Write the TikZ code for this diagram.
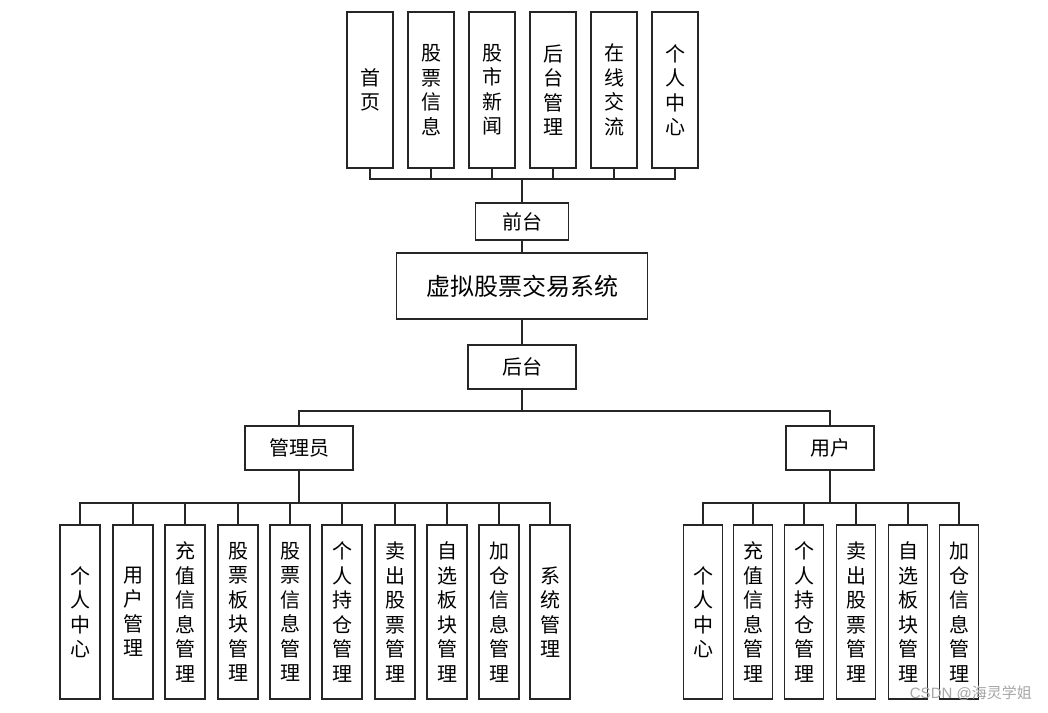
\documentclass[tikz,border=0pt]{standalone}
\usepackage{fontspec}
\newfontfamily\cjk{Noto Sans CJK SC}
\newfontfamily\wmfont{Liberation Sans}
\begin{document}
\begin{tikzpicture}[x=1pt,y=-1pt,
  box/.style={draw=black!85, line width=1.5pt, inner sep=0pt, align=center,
    font=\cjk\fontsize{20}{24.5}\selectfont},
  topbox/.style={box, minimum width=46pt, minimum height=156pt},
  adbox/.style={box, minimum width=40pt, minimum height=174pt},
  usbox/.style={box, minimum width=39pt, minimum height=174pt},
  link/.style={draw=black!85, line width=1.5pt},
  trunk/.style={draw=black!85, line width=2.4pt}]
\useasboundingbox (0,0) rectangle (1048,712);
% top row
\node[topbox] (t1) at (370,90) {首\\页};
\node[topbox] (t2) at (431,90) {股\\票\\信\\息};
\node[topbox] (t3) at (492,90) {股\\市\\新\\闻};
\node[topbox] (t4) at (553,90) {后\\台\\管\\理};
\node[topbox] (t5) at (614,90) {在\\线\\交\\流};
\node[topbox] (t6) at (675,90) {个\\人\\中\\心};
% middle
\node[box, minimum width=93pt, minimum height=37pt] (qt) at (522,221.5) {前台};
\node[box, minimum width=251pt, minimum height=66pt, font=\cjk\fontsize{24}{28}\selectfont] (sys) at (522,286) {虚拟股票交易系统};
\node[box, minimum width=108pt, minimum height=44pt] (ht) at (522,367) {后台};
\node[box, minimum width=108pt, minimum height=44pt] (adm) at (299,448) {管理员};
\node[box, minimum width=88pt, minimum height=44pt] (usr) at (830,448) {用户};
% admin row
\node[adbox] (a1) at (80,612) {个\\人\\中\\心};
\node[adbox] (a2) at (133,612) {用\\户\\管\\理};
\node[adbox] (a3) at (185,612) {充\\值\\信\\息\\管\\理};
\node[adbox] (a4) at (238,612) {股\\票\\板\\块\\管\\理};
\node[adbox] (a5) at (290,612) {股\\票\\信\\息\\管\\理};
\node[adbox] (a6) at (342,612) {个\\人\\持\\仓\\管\\理};
\node[adbox] (a7) at (395,612) {卖\\出\\股\\票\\管\\理};
\node[adbox] (a8) at (447,612) {自\\选\\板\\块\\管\\理};
\node[adbox] (a9) at (499,612) {加\\仓\\信\\息\\管\\理};
\node[adbox] (a10) at (550,612) {系\\统\\管\\理};
% user row
\node[usbox] (u1) at (703,612) {个\\人\\中\\心};
\node[usbox] (u2) at (753,612) {充\\值\\信\\息\\管\\理};
\node[usbox] (u3) at (804,612) {个\\人\\持\\仓\\管\\理};
\node[usbox] (u4) at (856,612) {卖\\出\\股\\票\\管\\理};
\node[usbox] (u5) at (908,612) {自\\选\\板\\块\\管\\理};
\node[usbox] (u6) at (959,612) {加\\仓\\信\\息\\管\\理};
% buses
\coordinate (fbus) at (522,179);
\coordinate (hbus) at (522,411);
\coordinate (abus) at (299,503);
\coordinate (ubus) at (830,503);
% connectors
\draw[trunk] (qt.north) -- (fbus);
\foreach \n in {t1,t2,t3,t4,t5,t6} \draw[link] (\n.south) |- (fbus);
\draw[link] (qt.south) -- (sys.north);
\draw[link] (sys.south) -- (ht.north);
\draw[link] (ht.south) -- (hbus);
\draw[link] (adm.north) |- (hbus);
\draw[link] (usr.north) |- (hbus);
\draw[trunk] (adm.south) -- (abus);
\foreach \n in {a1,a2,a3,a4,a5,a6,a7,a8,a9,a10} \draw[link] (\n.north) |- (abus);
\draw[link] (usr.south) -- (ubus);
\foreach \n in {u1,u2,u3,u4,u5,u6} \draw[link] (\n.north) |- (ubus);
% watermark
\node[text=black!35, font=\wmfont\fontsize{15}{17}\selectfont, anchor=east, inner sep=0pt] (wm) at (1032,693) {CSDN @{\cjk 海灵学姐}};
\end{tikzpicture}
\end{document}
